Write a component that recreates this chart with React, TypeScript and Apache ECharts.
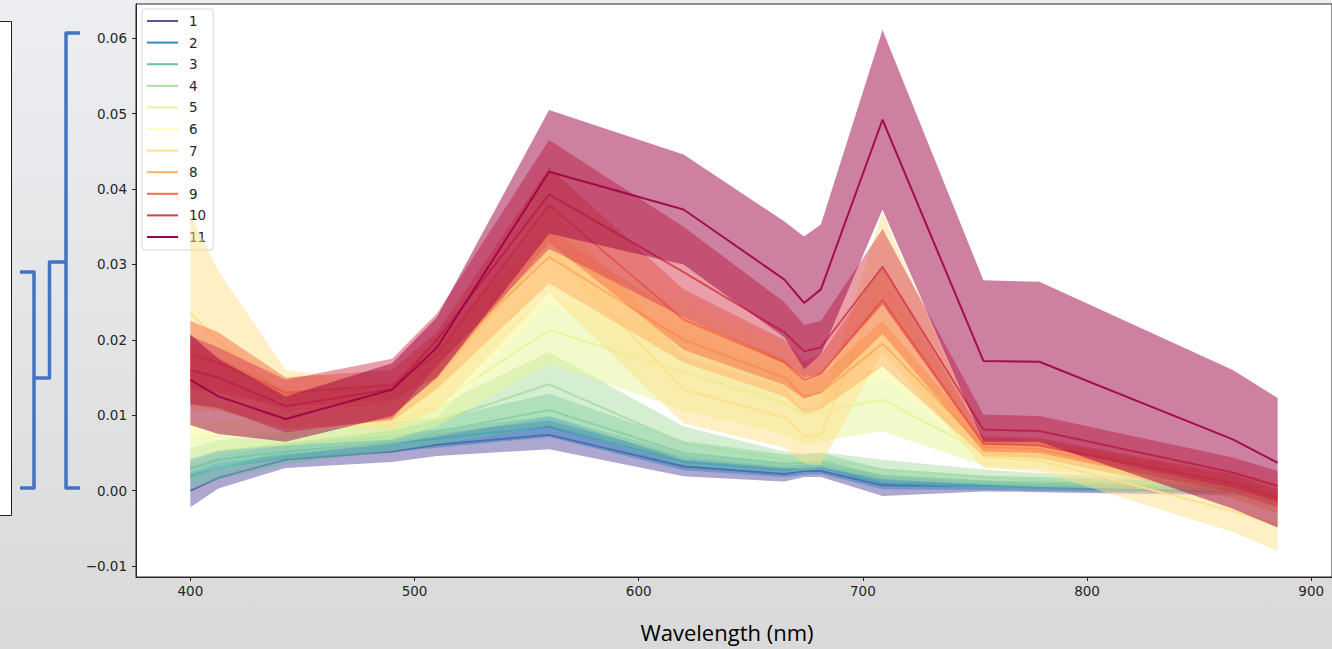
import React, { useEffect, useRef } from "react";
import * as echarts from "echarts";

// Band centres (nm) of the sampled spectra
const wavelengths = [400, 412.5, 442.5, 490, 510, 560, 620, 665, 673.75, 681.25, 708.75, 753.75, 778.75, 865, 885];

const clusterNames = ["1", "2", "3", "4", "5", "6", "7", "8", "9", "10", "11"];
const clusterColors = ["#5e4fa2", "#3288bd", "#66c2a5", "#abdda4", "#e6f598", "#ffffbf", "#fee08b", "#fdae61", "#f46d43", "#d53e4f", "#9e0142"];

// Mean reflectance per cluster
const mean1 = [0.0000, 0.0017, 0.0041, 0.0052, 0.0061, 0.0074, 0.0032, 0.0022, 0.0026, 0.0026, 0.0007, 0.0006, 0.0004, -0.0001, -0.0002];
const mean2 = [0.0029, 0.0041, 0.0052, 0.0063, 0.0069, 0.0085, 0.0038, 0.0027, 0.0030, 0.0031, 0.0010, 0.0007, 0.0006, 0.0002, 0.0000];
const mean3 = [0.0017, 0.0030, 0.0048, 0.0066, 0.0078, 0.0107, 0.0050, 0.0036, 0.0037, 0.0039, 0.0019, 0.0012, 0.0010, 0.0005, 0.0001];
const mean4 = [0.0040, 0.0052, 0.0062, 0.0078, 0.0092, 0.0141, 0.0063, 0.0041, 0.0039, 0.0041, 0.0028, 0.0018, 0.0014, 0.0006, 0.0000];
const mean5 = [0.0068, 0.0073, 0.0078, 0.0090, 0.0115, 0.0213, 0.0157, 0.0116, 0.0101, 0.0105, 0.0121, 0.0050, 0.0045, 0.0012, -0.0003];
const mean6 = [0.0090, 0.0092, 0.0095, 0.0110, 0.0125, 0.0286, 0.0213, 0.0163, 0.0134, 0.0143, 0.0183, 0.0055, 0.0052, 0.0018, 0.0005];
const mean7 = [0.0236, 0.0198, 0.0123, 0.0110, 0.0147, 0.0322, 0.0134, 0.0097, 0.0072, 0.0074, 0.0277, 0.0045, 0.0040, -0.0027, -0.0045];
const mean8 = [0.0154, 0.0143, 0.0107, 0.0117, 0.0170, 0.0310, 0.0200, 0.0150, 0.0125, 0.0130, 0.0195, 0.0058, 0.0055, 0.0005, -0.0015];
const mean9 = [0.0180, 0.0170, 0.0130, 0.0140, 0.0180, 0.0379, 0.0227, 0.0170, 0.0147, 0.0155, 0.0253, 0.0062, 0.0060, 0.0010, -0.0010];
const mean10 = [0.0160, 0.0150, 0.0112, 0.0135, 0.0200, 0.0393, 0.0290, 0.0210, 0.0185, 0.0190, 0.0297, 0.0081, 0.0079, 0.0024, 0.0006];
const mean11 = [0.0147, 0.0125, 0.0095, 0.0134, 0.0190, 0.0423, 0.0373, 0.0280, 0.0249, 0.0267, 0.0492, 0.0172, 0.0171, 0.0068, 0.0037];

// Standard deviation per cluster (shaded band = mean ± sd)
const sd1 = [0.0022, 0.0014, 0.0011, 0.0014, 0.0015, 0.0019, 0.0013, 0.0010, 0.0008, 0.0008, 0.0014, 0.0007, 0.0006, 0.0005, 0.0005];
const sd2 = [0.0012, 0.0011, 0.0010, 0.0011, 0.0012, 0.0014, 0.0011, 0.0009, 0.0009, 0.0009, 0.0008, 0.0006, 0.0006, 0.0005, 0.0005];
const sd3 = [0.0016, 0.0015, 0.0013, 0.0014, 0.0016, 0.0022, 0.0016, 0.0012, 0.0011, 0.0011, 0.0010, 0.0008, 0.0008, 0.0006, 0.0006];
const sd4 = [0.0016, 0.0015, 0.0014, 0.0016, 0.0020, 0.0043, 0.0022, 0.0011, 0.0010, 0.0010, 0.0013, 0.0010, 0.0009, 0.0006, 0.0006];
const sd5 = [0.0022, 0.0020, 0.0018, 0.0022, 0.0030, 0.0045, 0.0050, 0.0042, 0.0040, 0.0040, 0.0042, 0.0017, 0.0016, 0.0010, 0.0010];
const sd6 = [0.0025, 0.0020, 0.0018, 0.0020, 0.0028, 0.0040, 0.0035, 0.0030, 0.0028, 0.0028, 0.0035, 0.0012, 0.0012, 0.0010, 0.0010];
const sd7 = [0.0130, 0.0093, 0.0037, 0.0030, 0.0040, 0.0060, 0.0045, 0.0040, 0.0036, 0.0040, 0.0092, 0.0015, 0.0015, 0.0028, 0.0035];
const sd8 = [0.0040, 0.0035, 0.0025, 0.0025, 0.0035, 0.0035, 0.0030, 0.0025, 0.0022, 0.0022, 0.0030, 0.0012, 0.0012, 0.0015, 0.0015];
const sd9 = [0.0045, 0.0040, 0.0020, 0.0020, 0.0030, 0.0050, 0.0040, 0.0030, 0.0025, 0.0025, 0.0045, 0.0010, 0.0010, 0.0012, 0.0012];
const sd10 = [0.0045, 0.0040, 0.0035, 0.0040, 0.0035, 0.0072, 0.0060, 0.0040, 0.0035, 0.0035, 0.0050, 0.0020, 0.0020, 0.0020, 0.0020];
const sd11 = [0.0060, 0.0050, 0.0030, 0.0035, 0.0040, 0.0082, 0.0073, 0.0077, 0.0088, 0.0086, 0.0119, 0.0107, 0.0106, 0.0092, 0.0086];

const xTicks = [400, 500, 600, 700, 800, 900];
const yTicks = [-0.01, 0, 0.01, 0.02, 0.03, 0.04, 0.05, 0.06];

const means = [mean1, mean2, mean3, mean4, mean5, mean6, mean7, mean8, mean9, mean10, mean11];
const sds = [sd1, sd2, sd3, sd4, sd5, sd6, sd7, sd8, sd9, sd10, sd11];

const AXIS_COLOR = "#262626";
const BRACKET_BLUE = "#4472c4";

function buildOption() {
  const lows = means.map((m, i) => m.map((v, j) => v - sds[i][j]));
  const highs = means.map((m, i) => m.map((v, j) => v + sds[i][j]));

  // autoscale with a 5% margin on both axes
  const xLo = Math.min(...wavelengths);
  const xHi = Math.max(...wavelengths);
  const xPad = (xHi - xLo) * 0.05;
  const yLo = Math.min(...lows.flat());
  const yHi = Math.max(...highs.flat());
  const yPad = (yHi - yLo) * 0.05;

  const series: any[] = [];
  clusterNames.forEach((name, i) => {
    const color = clusterColors[i];
    const lo = lows[i];
    const hi = highs[i];
    series.push({
      type: "custom",
      name: "band-" + name,
      silent: true,
      z: 2 + 2 * i,
      data: wavelengths.map((w, j) => [w, lo[j], hi[j]]),
      encode: { x: 0, y: [1, 2] },
      renderItem: (params: any, api: any) => {
        if (params.dataIndex !== 0) return null;
        const pts: number[][] = [];
        for (let j = 0; j < wavelengths.length; j++) pts.push(api.coord([wavelengths[j], hi[j]]));
        for (let j = wavelengths.length - 1; j >= 0; j--) pts.push(api.coord([wavelengths[j], lo[j]]));
        return {
          type: "polygon",
          shape: { points: pts },
          style: { fill: color, opacity: 0.5 },
          silent: true,
        };
      },
    });
    series.push({
      type: "line",
      name,
      z: 3 + 2 * i,
      color,
      showSymbol: false,
      symbol: "none",
      silent: true,
      data: wavelengths.map((w, j) => [w, means[i][j]]),
      lineStyle: { color, width: 2, opacity: 0.9 },
      itemStyle: { color },
    });
  });

  const tickFont = { fontFamily: "DejaVu Sans", fontSize: 13.5, color: AXIS_COLOR };

  return {
    animation: false,
    backgroundColor: "transparent",
    grid: {
      left: 136,
      top: 4,
      width: 1200,
      height: 573,
      show: true,
      backgroundColor: "#ffffff",
      borderColor: AXIS_COLOR,
      borderWidth: 1,
    },
    xAxis: {
      type: "value",
      min: xLo - xPad,
      max: xHi + xPad,
      axisLine: { show: true, onZero: false, lineStyle: { color: AXIS_COLOR, width: 1 } },
      axisTick: { show: true, length: 4, customValues: xTicks, lineStyle: { color: AXIS_COLOR } },
      axisLabel: { customValues: xTicks, margin: 7, ...tickFont },
      splitLine: { show: false },
    },
    yAxis: {
      type: "value",
      min: yLo - yPad,
      max: yHi + yPad,
      axisLine: { show: true, lineStyle: { color: AXIS_COLOR, width: 1 } },
      axisTick: { show: true, length: 4, customValues: yTicks, lineStyle: { color: AXIS_COLOR } },
      axisLabel: {
        customValues: yTicks,
        margin: 9,
        formatter: (v: number) => v.toFixed(2).replace("-", "\u2212"),
        ...tickFont,
      },
      splitLine: { show: false },
    },
    legend: {
      show: true,
      orient: "vertical",
      left: 142,
      top: 9,
      data: clusterNames.map((n) => ({ name: n })),
      icon: "rect",
      itemWidth: 31,
      itemHeight: 2,
      itemGap: 5.6,
      padding: [4, 7, 5, 5],
      backgroundColor: "rgba(255,255,255,0.85)",
      borderColor: "#d6d6d6",
      borderWidth: 1,
      borderRadius: 3,
      selectedMode: false,
      textStyle: {
        fontFamily: "DejaVu Sans",
        fontSize: 13.5,
        lineHeight: 16,
        color: AXIS_COLOR,
        padding: [0, 0, 0, 6],
      },
    },
    graphic: [
      // partially visible panel on the far left
      {
        type: "rect",
        left: -2,
        top: 21,
        shape: { width: 13, height: 494 },
        style: { fill: "#ffffff", stroke: "#1e1e1e", lineWidth: 1 },
        silent: true,
      },
      // dendrogram brackets
      {
        type: "polyline",
        shape: { points: [[80, 33], [66, 33], [66, 488], [80, 488]] },
        style: { stroke: BRACKET_BLUE, lineWidth: 3.5, fill: "none", lineJoin: "round" },
        silent: true,
      },
      {
        type: "polyline",
        shape: { points: [[66, 262], [49.5, 262], [49.5, 378], [34, 378]] },
        style: { stroke: BRACKET_BLUE, lineWidth: 3.5, fill: "none", lineJoin: "round" },
        silent: true,
      },
      {
        type: "polyline",
        shape: { points: [[20, 272], [34, 272], [34, 488], [20, 488]] },
        style: { stroke: BRACKET_BLUE, lineWidth: 3.5, fill: "none", lineJoin: "round" },
        silent: true,
      },
      {
        type: "text",
        x: 727,
        y: 632,
        style: {
          text: "Wavelength (nm)",
          fill: "#000000",
          font: '22px "Open Sans"',
          align: "center",
          verticalAlign: "middle",
        },
        silent: true,
      },
    ],
    series,
  };
}

export default function App() {
  const ref = useRef<HTMLDivElement>(null);

  useEffect(() => {
    if (!ref.current) return;
    const chart = echarts.init(ref.current, null, { renderer: "svg" });
    chart.setOption(buildOption() as any);
    return () => chart.dispose();
  }, []);

  return (
    <div
      style={{
        position: "fixed",
        left: 0,
        top: 0,
        width: 1332,
        height: 649,
        background: "linear-gradient(to bottom, #eceef1 0%, #e2e3e5 55%, #d9d9d9 100%)",
        overflow: "hidden",
      }}
    >
      <div ref={ref} style={{ width: 1332, height: 649 }} />
    </div>
  );
}
